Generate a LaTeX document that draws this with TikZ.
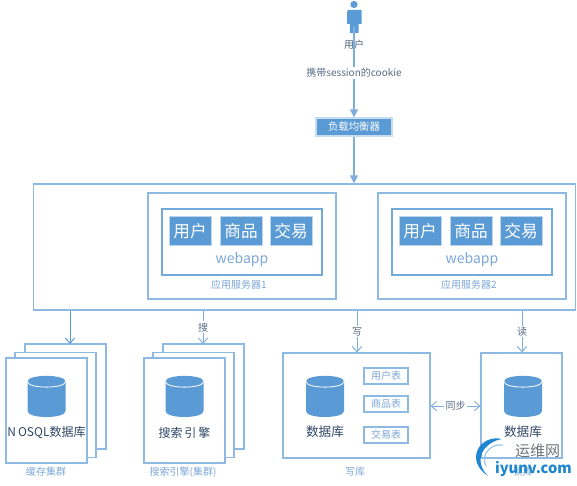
\documentclass[tikz,border=0pt]{standalone}
\usepackage{fontspec}
\setmainfont{Noto Sans CJK SC}
\usetikzlibrary{arrows.meta,calc}
\definecolor{fillCol}{HTML}{5B9BD5}
\definecolor{edgeCol}{HTML}{8DB9E2}
\definecolor{lineCol}{HTML}{7FAEDC}
\definecolor{inkCol}{HTML}{2F4766}
\definecolor{capCol}{HTML}{7DA7D8}
\definecolor{markCol}{HTML}{1E86D0}
\definecolor{markInk}{HTML}{6B757C}
\tikzset{
  x=0.75pt, y=-0.75pt,
  panel/.style={draw=edgeCol, fill=white, line width=0.9pt, inner sep=0pt},
  stackbox/.style={panel, minimum width=60.75pt, minimum height=78.75pt},
  chip/.style={fill=fillCol, draw=edgeCol!60, line width=0.5pt, text=white, font=\fontsize{12.5}{14}\selectfont,
               minimum width=31.5pt, minimum height=21.75pt, inner sep=0pt},
  tablebox/.style={draw=edgeCol, line width=0.9pt, fill=white, text=capCol, font=\fontsize{7.5}{9}\selectfont,
               minimum width=33pt, minimum height=12pt, inner sep=0pt},
  inktxt/.style={text=inkCol, font=\fontsize{9.5}{11}\selectfont, inner sep=0pt},
  captxt/.style={text=capCol, font=\fontsize{7.5}{9}\selectfont, inner sep=0pt},
  linktxt/.style={text=inkCol!80, font=\fontsize{7.5}{9}\selectfont, fill=white, inner sep=1pt},
  solidarr/.style={-{Triangle[length=6pt,width=6pt]}, draw=lineCol, line width=0.9pt},
  openarr/.style={-{Straight Barb[length=4pt,width=7pt]}, draw=lineCol, line width=0.7pt},
}
% database can, x of its axis as argument
\newcommand{\dbcan}[1]{%
  \fill[fillCol] (#1-19,381.5) .. controls (#1-19,374) and (#1+19,374) .. (#1+19,381.5)
    -- (#1+19,411) .. controls (#1+19,419) and (#1-19,419) .. (#1-19,411) -- cycle;
  \draw[white, line width=0.6pt] (#1-19,381.5) .. controls (#1-19,389) and (#1+19,389) .. (#1+19,381.5);}
% one application server: outer box, inner box, three chips
\newcommand{\appserver}[3]{%
  \node[panel, minimum width=141pt, minimum height=79.5pt] (#1) at (#2,246) {};
  \node[panel, draw=fillCol!85, minimum width=120pt, minimum height=49.5pt] (#1in) at ($(#1)+(0,-4)$) {};
  \node[chip] (#1a) at ($(#1)+(-52,-15)$) {用户};
  \node[chip] (#1b) at ($(#1)+(-1,-15)$) {商品};
  \node[chip] (#1c) at ($(#1)+(49,-15)$) {交易};
  \node[text=capCol, font=\fontsize{10.5}{12}\selectfont, inner sep=0pt] (#1w) at ($(#1)+(0,14)$) {webapp};
  \node[captxt] (#1t) at ($(#1)+(-3,39)$) {#3};}
% three boxes stacked back to front
\newcommand{\cluster}[3]{%
  \node[stackbox] (#1back) at (#2+19,396.5) {};
  \node[stackbox] (#1mid) at (#2+9,405) {};
  \node[stackbox] (#1) at (#2,410.5) {};
  \dbcan{#2}
  \node[inktxt, font=\fontsize{9}{11}\selectfont] (#1t) at (#2,433) {#3};}

\begin{document}
\begin{tikzpicture}
  \useasboundingbox (0,0) rectangle (577,485);
  % user
  \fill[fillCol] (354,4.5) circle (3.6);
  \fill[fillCol] (347,13) to[rounded corners=1pt] (347,10) -- (361.5,10) to[rounded corners=0pt] (361.5,24) -- (358.5,24)
    -- (358.5,33) -- (349.8,33) -- (349.8,24) -- (347,24) -- cycle;
  \coordinate (user) at (354,26);
  \node[text=inkCol!85, font=\fontsize{7.5}{9}\selectfont, inner sep=0pt] (userlbl) at (354,45) {用户};
  \node[panel, fill=fillCol, draw=edgeCol!50, text=white, font=\fontsize{7.8}{9}\selectfont,
        minimum width=57pt, minimum height=13.5pt] (lb) at (354,127) {负载均衡器};

  % application tier
  \node[panel, minimum width=407pt, minimum height=94.5pt] (apps) at (304.5,247) {};
  \appserver{srvA}{242}{应用服务器1}
  \appserver{srvB}{472}{应用服务器2}

  % storage
  \cluster{cache}{46.5}{N\,OSQL数据库}
  \cluster{search}{184.5}{搜索\,引\,擎}
  \node[captxt] (cachelbl) at (46,472) {缓存集群};
  \node[captxt] (searchlbl) at (183,472) {搜索引擎(集群)};

  \node[panel, minimum width=110.25pt, minimum height=78.75pt] (wdb) at (356.5,405.5) {};
  \dbcan{325}
  \node[inktxt] (wtxt) at (325,432) {数据库};
  \node[tablebox] (t1) at (386,376) {用户表};
  \node[tablebox] (t2) at (386,404) {商品表};
  \node[tablebox] (t3) at (386,435) {交易表};
  \node[captxt] (wlbl) at (355,472) {写库};

  \node[panel, minimum width=60.75pt, minimum height=78.75pt] (rdb) at (521.5,405.5) {};
  \dbcan{523}
  \node[inktxt] (rtxt) at (523,432) {数据库};
  \node[captxt] (rlbl) at (523,472) {读库};

  % connectors
  \draw[solidarr] (user) -- (lb.north);
  \node[linktxt] (cookie) at (354,73) {携带session的cookie};
  \draw[solidarr] (lb.south) -- (lb.south|-apps.north);
  \draw[openarr, draw=fillCol] (apps.south-|70,0) -- (70,344);
  \draw[openarr] (apps.south-|203,0) -- node[linktxt] {搜} (203,344);
  \draw[openarr] (apps.south-|357,0) -- node[linktxt] {写} (wdb.north-|357,0);
  \draw[openarr] (apps.south-|522,0) -- node[linktxt] {读} (rdb.north-|522,0);
  \draw[openarr, {Straight Barb[length=4pt,width=7pt]}-{Straight Barb[length=4pt,width=7pt]}]
    (wdb.east|-0,406) -- node[linktxt] {同步} (rdb.west|-0,406);

  % watermark
  \fill[markCol] (502,439) .. controls (480,434) and (464,460) .. (488,476) .. controls (472,460) and (484,442) .. (502,439);
  \draw[markCol!45, line width=0.9pt] (503,445) .. controls (490,443) and (480,456) .. (486,466);
  \node[markInk, font=\fontsize{11.25}{13}\selectfont, inner sep=0pt] (markcn) at (537.5,451) {运维网};
  \node[markCol, font=\fontsize{11}{13}\selectfont\bfseries, inner sep=0pt] (markurl) at (533.5,469) {iyunv.com};
\end{tikzpicture}
\end{document}
